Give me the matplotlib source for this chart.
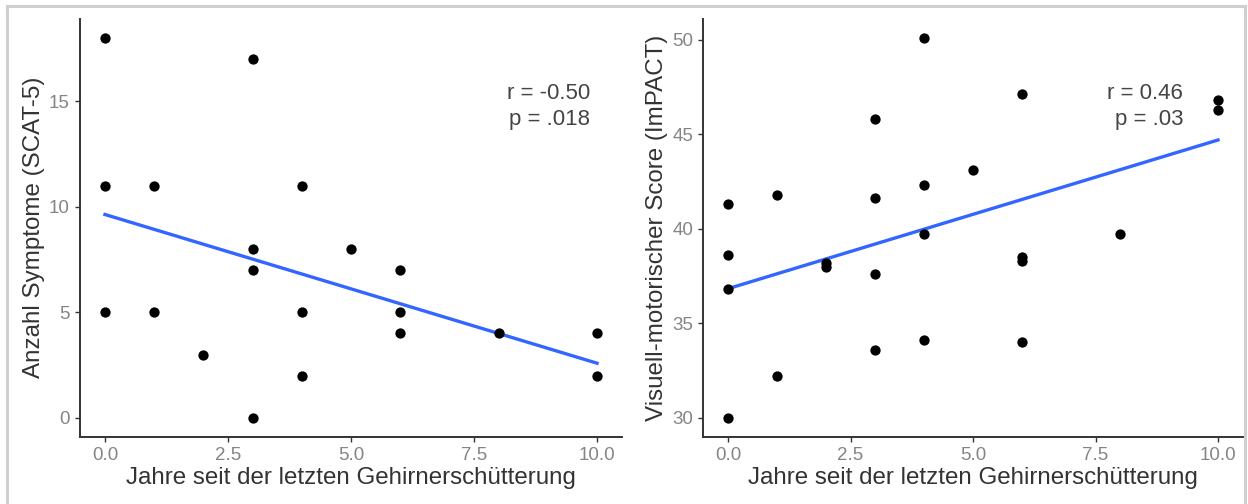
import numpy as np
import matplotlib
matplotlib.use("Agg")
import matplotlib.pyplot as plt
from matplotlib.lines import Line2D

plt.rcParams['font.family'] = ['Liberation Sans', 'DejaVu Sans']

# years since last concussion vs. symptom count (SCAT-5)
years_scat = [0, 0, 0, 1, 1, 2, 3, 3, 3, 3, 4, 4, 4, 5, 6, 6, 6, 8, 10, 10]
symptoms = [18, 11, 5, 11, 5, 3, 17, 8, 7, 0, 11, 5, 2, 8, 7, 5, 4, 4, 4, 2]

# years since last concussion vs. visual-motor score (ImPACT)
years_imp = [0, 0, 0, 0, 1, 1, 2, 2, 3, 3, 3, 3, 4, 4, 4, 4, 5, 6, 6, 6, 6, 8, 10, 10]
visuomotor = [30.0, 36.8, 38.6, 41.3, 32.2, 41.8, 38.2, 38.0, 33.6, 37.6, 41.6, 45.8,
              34.1, 39.7, 42.3, 50.1, 43.1, 34.0, 38.5, 38.3, 47.1, 39.7, 46.8, 46.3]

x_ticks = [0.0, 2.5, 5.0, 7.5, 10.0]
x_title = 'Jahre seit der letzten Gehirnerschütterung'

panels = [
    (years_scat, symptoms, 'Anzahl Symptome (SCAT-5)', [0, 5, 10, 15],
     'r = -0.50\np = .018', (9.86, 14.75)),
    (years_imp, visuomotor, 'Visuell-motorischer Score (ImPACT)', [30, 35, 40, 45, 50],
     'r = 0.46\np = .03', (9.29, 46.45)),
]

fig = plt.figure(figsize=(12.48, 5.04), dpi=100)
boxes = [[0.0644, 0.133, 0.4337, 0.830], [0.5637, 0.133, 0.4319, 0.830]]

for box, (xs, ys, ylab, yt, stat, pos) in zip(boxes, panels):
    ax = fig.add_axes(box)
    xs = np.array(xs, dtype=float)
    ys = np.array(ys, dtype=float)
    ax.scatter(xs, ys, s=55, color='black', zorder=3, linewidths=0)
    slope, icpt = np.polyfit(xs, ys, 1)
    xl = np.array([xs.min(), xs.max()])
    ax.plot(xl, icpt + slope * xl, color='#3366FF', lw=2.4, zorder=2)

    span = ys.max() - ys.min()
    ax.set_ylim(ys.min() - 0.05 * span, ys.max() + 0.05 * span)
    ax.set_xlim(-0.5, 10.5)
    ax.set_xticks(x_ticks)
    ax.set_xticklabels([f'{t:.1f}' for t in x_ticks])
    ax.set_yticks(yt)

    for side in ['top', 'right']:
        ax.spines[side].set_visible(False)
    for side in ['left', 'bottom']:
        ax.spines[side].set_color('#333333')
        ax.spines[side].set_linewidth(1.4)
    ax.tick_params(length=3.5, width=1.0, color='#333333', labelcolor='#858585',
                   labelsize=13.5, pad=4)

    ax.set_xlabel(x_title, fontsize=17.4, color='#333333', labelpad=2)
    ax.set_ylabel(ylab, fontsize=17.4, color='#333333', labelpad=3)
    ax.text(pos[0], pos[1], stat, ha='right', va='center', fontsize=16,
            color='#444444', linespacing=1.3, multialignment='right')

# light frame round the figure
frame = dict(color='#cfcfcf', lw=2.2, transform=fig.transFigure)
fig.add_artist(Line2D([0.0056, 0.9976], [0.988, 0.988], **frame))
fig.add_artist(Line2D([0.0056, 0.0056], [0.0, 0.988], **frame))
fig.add_artist(Line2D([0.9976, 0.9976], [0.0, 0.988], **frame))

fig.savefig('out.png', dpi=100)
